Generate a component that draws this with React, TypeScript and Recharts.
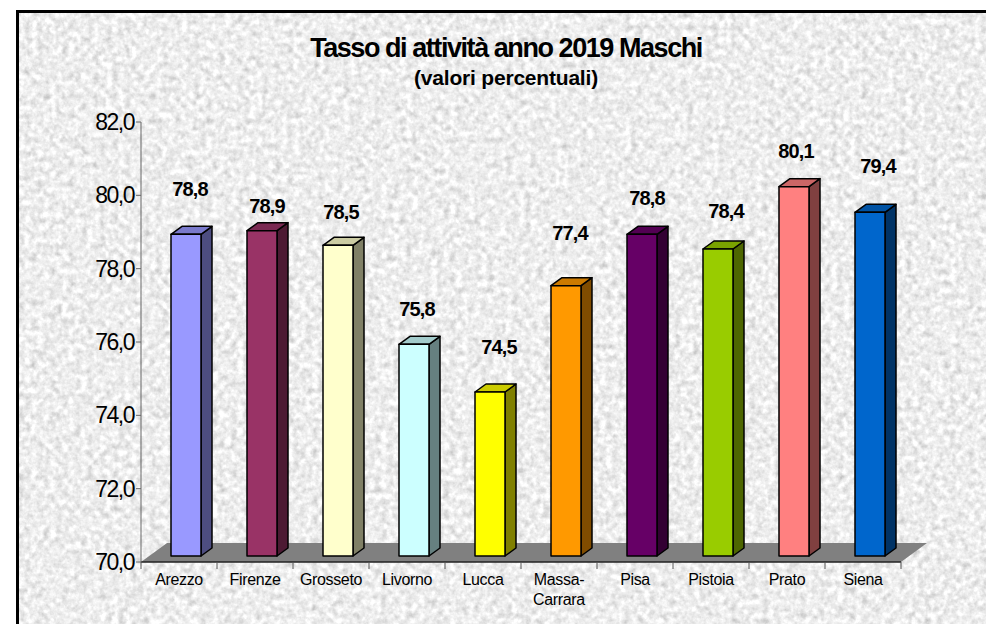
import React from "react";
import { BarChart, Bar, XAxis, YAxis, ReferenceArea, LabelList } from "recharts";

const categories = ["Arezzo", "Firenze", "Grosseto", "Livorno", "Lucca", "Massa-Carrara", "Pisa", "Pistoia", "Prato", "Siena"];
const values = [78.8, 78.9, 78.5, 75.8, 74.5, 77.4, 78.8, 78.4, 80.1, 79.4];
const yTicks = [70, 72, 74, 76, 78, 80, 82];

const frontColors = ["#9999ff", "#993366", "#ffffcc", "#ccffff", "#ffff00", "#ff9900", "#660066", "#99cc00", "#ff8080", "#0066cc"];
const topColors = ["#7a7acc", "#7a2952", "#cccca3", "#a3cccc", "#cccc00", "#cc7a00", "#520052", "#7aa300", "#cc6666", "#0052a3"];
const sideColors = ["#4d4d80", "#4d1a33", "#808066", "#668080", "#808000", "#804c00", "#330033", "#4d6600", "#804040", "#003366"];

const labelLift = [46, 26, 34, 36, 46, 54, 37, 39, 37, 47];
const labelShift = [4, 5, 3, 3, 9, 4, 5, 8, 2, 8];

const data = categories.map((name, i) => ({ name, value: values[i] }));

const FONT = "'Liberation Sans', Arial, sans-serif";
const OFF_X = 7;
const OFF_Y = -6;
const SIDE_X = 11;
const SIDE_Y = -8;

const Bar3D = (props: any) => {
  const { x, y, width, height, index } = props;
  const l = x + OFF_X;
  const t = y + OFF_Y + 1;
  const r = l + width;
  const b = y + OFF_Y + height;
  return (
    <g stroke="#000" strokeWidth={1.5} strokeLinejoin="round">
      <polygon points={`${r},${t} ${r + SIDE_X},${t + SIDE_Y} ${r + SIDE_X},${b + SIDE_Y} ${r},${b}`} fill={sideColors[index]} />
      <polygon points={`${l},${t} ${l + SIDE_X},${t + SIDE_Y} ${r + SIDE_X},${t + SIDE_Y} ${r},${t}`} fill={topColors[index]} />
      <rect x={l} y={t} width={width} height={b - t} fill={frontColors[index]} />
    </g>
  );
};

const Floor = (props: any) => {
  const { x, y, width, height } = props;
  const b = y + height;
  return (
    <polygon
      points={`${x},${b} ${x + width},${b} ${x + width + 26},${b - 19} ${x + 26},${b - 19}`}
      fill="#808080"
    />
  );
};

const XTick = (props: any) => {
  const { x, y, payload, index } = props;
  const half = 38;
  const words: string[] = payload.value === "Massa-Carrara" ? ["Massa-", "Carrara"] : [payload.value];
  return (
    <g>
      {index === 0 && <line x1={x - half} x2={x - half} y1={y - 8} y2={y - 1} stroke="#555" />}
      <line x1={x + half} x2={x + half} y1={y - 8} y2={y - 1} stroke="#555" />
      {words.map((w, i) => (
        <text key={w} x={x} y={y + 15 + i * 20} textAnchor="middle" fontFamily={FONT} fontSize={16} letterSpacing={-0.35} fill="#000">
          {w}
        </text>
      ))}
    </g>
  );
};

const DataLabel = (props: any) => {
  const { x, y, width, index, value } = props;
  return (
    <text
      x={x + width / 2 + OFF_X + labelShift[index]}
      y={y + OFF_Y - labelLift[index] + 9}
      textAnchor="middle"
      fontFamily={FONT}
      fontSize={20}
      fontWeight="bold"
      letterSpacing={-0.9}
      fill="#000"
    >
      {Number(value).toFixed(1).replace(".", ",")}
    </text>
  );
};

export default function App() {
  return (
    <div style={{ position: "absolute", left: 0, top: 0, width: 986, height: 624, overflow: "hidden", background: "#fff" }}>
      <svg width={986} height={624} style={{ position: "absolute", left: 0, top: 0 }}>
        <defs>
          <filter id="granite" x="0" y="0" width="100%" height="100%" colorInterpolationFilters="sRGB">
            <feTurbulence type="fractalNoise" baseFrequency="0.16" numOctaves={3} seed={7} />
            <feColorMatrix type="matrix" values="0.24 0.24 0 0 0.69  0.24 0.24 0 0 0.69  0.24 0.24 0 0 0.69  0 0 0 0 1" />
          </filter>
        </defs>
        <rect x={18} y={12} width={980} height={640} fill="#e8e8e8" filter="url(#granite)" />
        <rect x={17.5} y={11.5} width={1000} height={640} fill="none" stroke="#000" strokeWidth={3} />
      </svg>
      <div style={{ position: "absolute", left: 0, top: 0 }}>
        <BarChart width={986} height={624} data={data} margin={{ top: 122, right: 85, bottom: 0, left: 0 }} barCategoryGap={46}>
          <ReferenceArea x1="Arezzo" x2="Siena" y1={70} y2={70.2} ifOverflow="visible" shape={Floor} />
          <XAxis dataKey="name" axisLine={{ stroke: "#222", strokeWidth: 1.5 }} tickLine={false} interval={0} tick={<XTick />} height={62} />
          <YAxis
            domain={[70, 82]}
            ticks={yTicks}
            width={141}
            axisLine={{ stroke: "#666" }}
            tickLine={{ stroke: "#666" }}
            tickSize={5}
            interval={0}
            tickFormatter={(v: number) => v.toFixed(1).replace(".", ",")}
            tick={{ fontFamily: FONT, fontSize: 23, letterSpacing: -1.5, fill: "#000" }}
          />
          <Bar dataKey="value" barSize={30} isAnimationActive={false} shape={<Bar3D />}>
            <LabelList dataKey="value" content={<DataLabel />} />
          </Bar>
          <text x={506} y={57} textAnchor="middle" fontFamily={FONT} fontSize={27} fontWeight="bold" letterSpacing={-1.44} fill="#000">
            Tasso di attività anno 2019 Maschi
          </text>
          <text x={506} y={85} textAnchor="middle" fontFamily={FONT} fontSize={21} fontWeight="bold" letterSpacing={-0.2} fill="#000">
            (valori percentuali)
          </text>
        </BarChart>
      </div>
    </div>
  );
}
